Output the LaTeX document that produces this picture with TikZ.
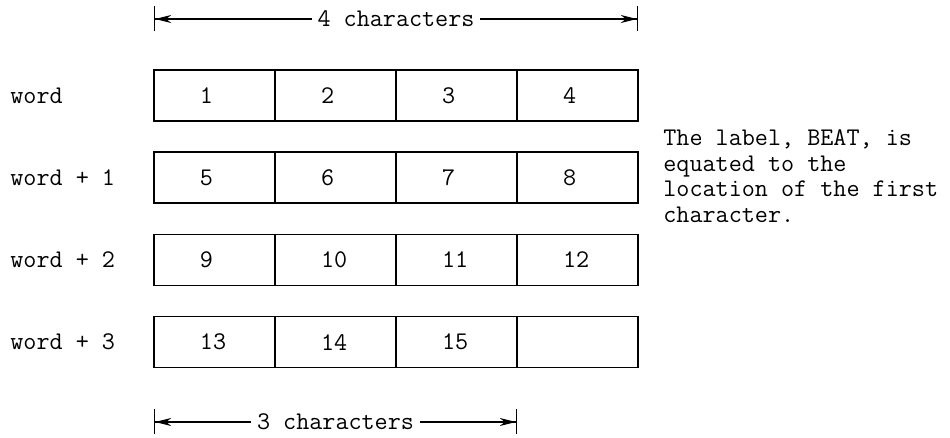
\documentclass[tikz,border=0pt]{standalone}
\usepackage{fontspec}
\usetikzlibrary{arrows.meta}
\newcommand{\typefont}{\fontsize{12.7}{15}\selectfont\ttfamily}
\tikzset{
  cell/.style={draw, line width=0.75pt, minimum width=60.5pt, minimum height=25.5pt, inner sep=0pt, font=\typefont},
  rowlabel/.style={anchor=west, inner sep=0pt, font=\typefont},
  noteline/.style={anchor=base west, inner sep=0pt, font=\typefont},
  dimline/.style={line width=0.6pt,
    {Bar[width=12.5pt]Stealth[length=8pt,width=4pt,inset=2.5pt]}-{Stealth[length=8pt,width=4pt,inset=2.5pt]Bar[width=12.5pt]}},
  dimtext/.style={fill=white, inner sep=3pt, font=\typefont}
}
\begin{document}
\begin{tikzpicture}[x=0.5pt, y=-0.5pt]
  \useasboundingbox (0,0) rectangle (950,438);
  % the four words, four characters each
  \foreach \r/\lbl in {1/word, 2/word + 1, 3/word + 2, 4/word + 3} {
    \node[rowlabel] (lbl\r) at (10, {95.5+82.2*(\r-1)}) {\lbl};
    \foreach \c in {1,...,4} {
      \pgfmathtruncatemacro{\n}{4*(\r-1)+\c}
      \ifnum\n>15 \def\n{}\fi
      \node[cell] (c-\r-\c) at ({154+121*(\c-0.5)}, {95.5+82.2*(\r-1)})
        {\makebox[60.5pt][l]{\hspace*{23pt}\n}};
    }
  }
  % dimension lines
  \coordinate (topL) at (154,19);
  \coordinate (topR) at (638,19);
  \draw[dimline] (topL) -- node[dimtext] (topTxt) {4 characters} (topR);
  \coordinate (botL) at (154,422);
  \coordinate (botR) at (517,422);
  \draw[dimline] (botL) -- node[dimtext] (botTxt) {3 characters} (botR);
  % note, one line per node
  \foreach \i/\txt in {1/{The label, BEAT, is}, 2/{equated to the},
                       3/{location of the first}, 4/{character.}} {
    \node[noteline] (note\i) at (663, {146+25.5*(\i-1)}) {\txt};
  }
\end{tikzpicture}
\end{document}
